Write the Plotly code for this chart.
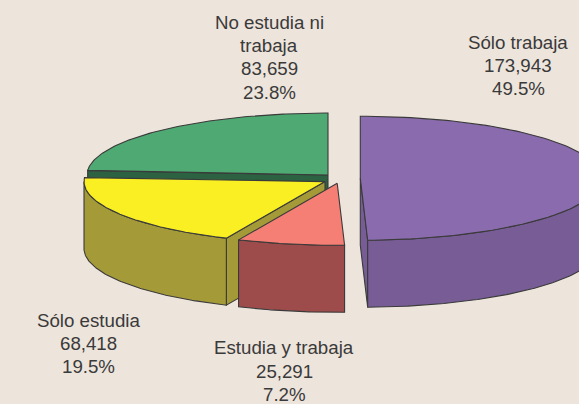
import numpy as np
import plotly.graph_objects as go

# Data (counter-clockwise from 12 o'clock)
categories = ["No estudia ni<br>trabaja", "Sólo estudia", "Estudia y trabaja", "Sólo trabaja"]
values = [83659, 68418, 25291, 173943]
percent_labels = ["23.8%", "19.5%", "7.2%", "49.5%"]

# Style
top_colors = ["#4FA973", "#F9EF22", "#F57F74", "#8A6CAE"]
side_colors = ["#2C6142", "#A49A38", "#9E4C4B", "#775C96"]
centers_x = [328, 325, 337.2, 360.3]
centers_y = [175, 181.6, 183.3, 178.3]
label_x = [269, 88, 284, 518]
label_first_y = [22, 320, 347.6, 42]
LINE_STEP = 23.4
RX, RY, DEPTH = 241, 62, 67
BG = "#EDE4DC"
EDGE = "#3A3A3A"

total = sum(values)
edges = np.concatenate([[0], np.cumsum(values)]) / total * 2 * np.pi


def pt(i, theta):
    return centers_x[i] - RX * np.sin(theta), centers_y[i] - RY * np.cos(theta)


fig = go.Figure()


def poly(xs, ys, color):
    xs, ys = list(xs), list(ys)
    fig.add_trace(go.Scatter(x=xs + xs[:1], y=ys + ys[:1], mode="lines", fill="toself",
                             fillcolor=color, line=dict(color=EDGE, width=1.1),
                             hoverinfo="skip", showlegend=False))


def top(i):
    t = np.linspace(edges[i], edges[i + 1], 120)
    x, y = pt(i, t)
    poly([centers_x[i], *x], [centers_y[i], *y], top_colors[i])


def outer(i):
    t = np.linspace(max(edges[i], np.pi / 2), min(edges[i + 1], 3 * np.pi / 2), 120)
    x, y = pt(i, t)
    poly([*x, *x[::-1]], [*y, *(y[::-1] + DEPTH)], side_colors[i])


def radial(i, theta):
    x, y = pt(i, theta)
    cx, cy = centers_x[i], centers_y[i]
    poly([cx, x, x, cx], [cy, y, y + DEPTH, cy + DEPTH], side_colors[i])


# Back to front
radial(0, edges[1])
top(0)
radial(1, edges[2])
outer(1)
top(1)
radial(3, edges[3])
outer(3)
top(3)
outer(2)
top(2)

for i, name in enumerate(categories):
    lines = name.split("<br>") + [f"{values[i]:,}", percent_labels[i]]
    for k, line in enumerate(lines):
        fig.add_annotation(x=label_x[i], y=label_first_y[i] + k * LINE_STEP,
                           xanchor="center", yanchor="middle", text=line,
                           showarrow=False, align="center",
                           font=dict(family="Liberation Sans", size=18.7, color="#3A3A3A"))

fig.update_layout(width=579, height=404, margin=dict(l=0, r=0, t=0, b=0),
                  paper_bgcolor=BG, plot_bgcolor=BG, showlegend=False,
                  xaxis=dict(range=[0, 579], visible=False, fixedrange=True),
                  yaxis=dict(range=[404, 0], visible=False, fixedrange=True))

fig.write_html("out.html", config={"displayModeBar": False},
               post_script="document.body.style.margin='0';document.body.style.overflow='hidden';")
